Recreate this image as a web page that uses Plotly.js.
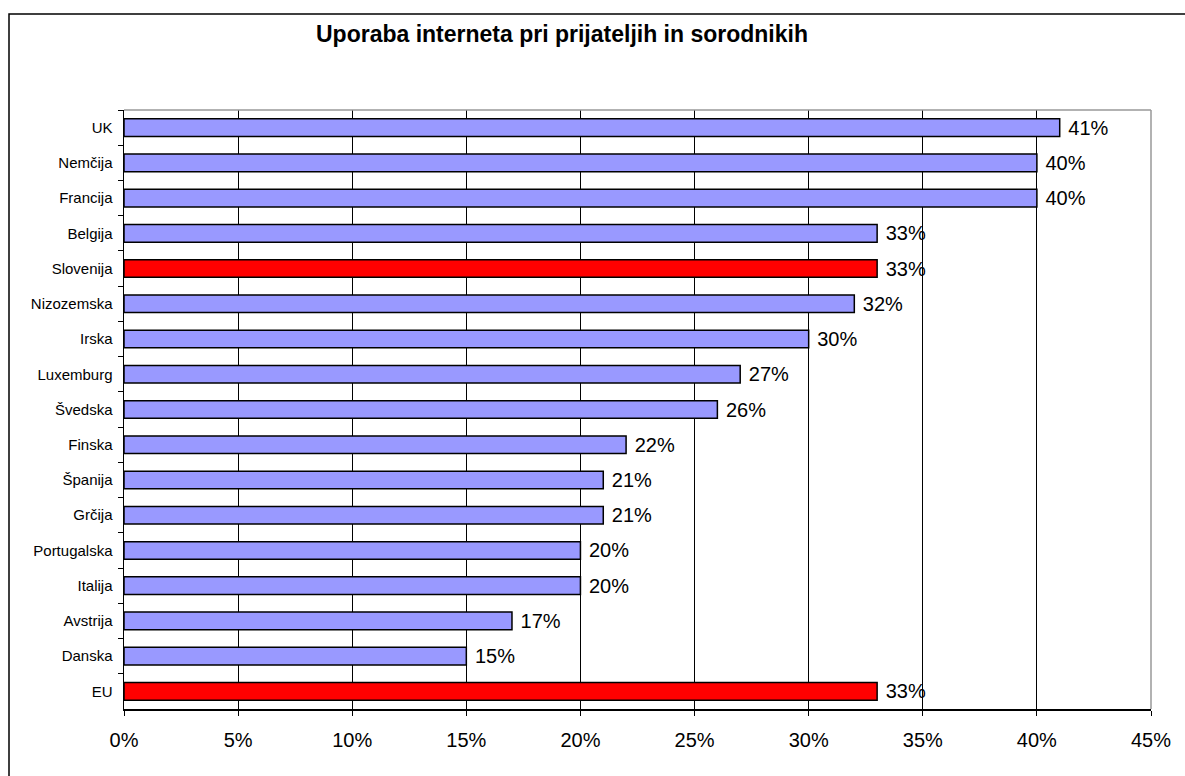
<!DOCTYPE html>
<html>
<head>
<meta charset="utf-8">
<script src="https://cdn.plot.ly/plotly-3.0.1.min.js"></script>
<style>html,body{margin:0;padding:0;background:#fff;}#chart{width:1185px;height:776px;}</style>
</head>
<body>
<div id="chart"></div>
<script>
const countries = ["UK","Nemčija","Francija","Belgija","Slovenija","Nizozemska","Irska","Luxemburg","Švedska","Finska","Španija","Grčija","Portugalska","Italija","Avstrija","Danska","EU"];
const values = [41,40,40,33,33,32,30,27,26,22,21,21,20,20,17,15,33];
const highlighted = ["Slovenija","EU"];
const xTickValues = [0,5,10,15,20,25,30,35,40,45];
const xTickLabels = ["0%","5%","10%","15%","20%","25%","30%","35%","40%","45%"];
const chartTitle = "Uporaba interneta pri prijateljih in sorodnikih";

const colors = countries.map(c => highlighted.includes(c) ? "#FF0000" : "#9999FF");

const W = 1185, H = 776;
const L = 124, R = 34, T = 110, B = 67;
const pw = W - L - R, ph = H - T - B;
const px = v => (v - L) / pw;
const py = v => 1 - (v - T) / ph;

const trace = {
  type: "bar",
  orientation: "h",
  y: countries,
  x: values,
  width: 0.5,
  marker: {color: colors, line: {color: "#000", width: 1.5}},
  text: values.map(v => " " + v + "%"),
  textposition: "outside",
  constraintext: "none",
  textfont: {family: "Liberation Sans, Arial, sans-serif", size: 20, color: "#000"},
  cliponaxis: false,
  hoverinfo: "none"
};

const layout = {
  width: W, height: H,
  margin: {l: L, r: R, t: T, b: B, pad: 0},
  paper_bgcolor: "#fff",
  plot_bgcolor: "#fff",
  showlegend: false,
  font: {family: "Liberation Sans, Arial, sans-serif", color: "#000"},
  title: {
    text: "<b>" + chartTitle + "</b>",
    font: {family: "Liberation Sans, Arial, sans-serif", size: 23, color: "#000"},
    xref: "paper", x: px(562), xanchor: "center",
    yref: "container", y: 1 - 34 / H, yanchor: "middle"
  },
  xaxis: {
    range: [0, 45],
    tickvals: xTickValues,
    ticktext: xTickLabels,
    ticks: "outside", ticklen: 5, tickcolor: "#000", tickwidth: 1,
    ticklabelstandoff: 7,
    showgrid: true, gridcolor: "#000", gridwidth: 1,
    showline: true, linecolor: "#000", linewidth: 1.5,
    zeroline: false,
    tickfont: {size: 20, color: "#000"},
    fixedrange: true
  },
  yaxis: {
    type: "category",
    autorange: "reversed",
    ticks: "outside", ticklen: 5, tickcolor: "#000", tickwidth: 1,
    tickson: "boundaries",
    ticklabelstandoff: 7,
    showgrid: false,
    showline: true, linecolor: "#000", linewidth: 1.5,
    tickfont: {size: 15, color: "#000"},
    fixedrange: true
  },
  bargap: 0.5,
  shapes: [
    {type: "line", xref: "paper", yref: "paper", x0: 0, x1: 1, y0: 1, y1: 1, line: {color: "#999", width: 1.5}, layer: "above"},
    {type: "line", xref: "paper", yref: "paper", x0: 1, x1: 1, y0: 0, y1: 1, line: {color: "#999", width: 1.5}, layer: "above"},
    {type: "rect", xref: "paper", yref: "paper", x0: px(9), x1: px(1200), y0: py(790), y1: py(14), line: {color: "#000", width: 1.5}, fillcolor: "rgba(0,0,0,0)", layer: "above"}
  ]
};

Plotly.newPlot("chart", [trace], layout, {displayModeBar: false, staticPlot: true});
</script>
</body>
</html>
